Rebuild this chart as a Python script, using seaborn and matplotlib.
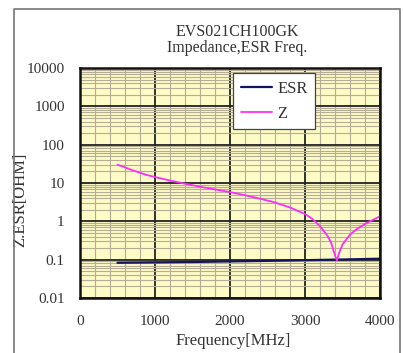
import numpy as np
import pandas as pd
import matplotlib
matplotlib.use("Agg")
import matplotlib.pyplot as plt
import seaborn as sns
from matplotlib.ticker import MultipleLocator, LogLocator, FixedLocator, NullFormatter
from matplotlib.lines import Line2D

# data
freq_z = [500, 600, 700, 800, 900, 1000, 1200, 1400, 1600, 1800, 2000, 2200, 2400,
          2600, 2800, 3000, 3100, 3200, 3300, 3350, 3400, 3425, 3450, 3500, 3600,
          3700, 3800, 3900, 4000]
z_ohm = [30, 25.5, 21.5, 18.5, 16, 14.3, 11.6, 9.6, 8.0, 6.8, 5.8, 4.8, 3.9,
         3.1, 2.3, 1.55, 1.15, 0.75, 0.42, 0.27, 0.13, 0.095, 0.14, 0.25, 0.45,
         0.65, 0.85, 1.08, 1.35]
freq_esr = [500, 1000, 1500, 2000, 2500, 3000, 3500, 4000]
esr_ohm = [0.083, 0.085, 0.087, 0.090, 0.093, 0.097, 0.101, 0.106]
x_ticks = [0, 1000, 2000, 3000, 4000]
y_ticks = [0.01, 0.1, 1, 10, 100, 1000, 10000]
y_labels = ['0.01', '0.1', '1', '10', '100', '1000', '10000']

sns.set_style("white")
plt.rcParams['font.family'] = ['Liberation Serif', 'DejaVu Serif']

df_z = pd.DataFrame({'f': freq_z, 'v': z_ohm})
df_esr = pd.DataFrame({'f': freq_esr, 'v': esr_ohm})

fig = plt.figure(figsize=(4.03, 3.53), dpi=100)
ax = fig.add_axes([80/403, 1-298/353, 300/403, 230/353])
ax.set_facecolor('#fdfbc6')

sns.lineplot(data=df_esr, x='f', y='v', ax=ax, color='#14145e', lw=1.6)
sns.lineplot(data=df_z, x='f', y='v', ax=ax, color='#ff2cff', lw=1.3)

ax.set_yscale('log')
ax.set_xlim(0, 4000)
ax.set_ylim(0.01, 10000)
ax.xaxis.set_major_locator(FixedLocator(x_ticks))
ax.xaxis.set_minor_locator(MultipleLocator(200))
ax.yaxis.set_major_locator(FixedLocator(y_ticks))
ax.yaxis.set_minor_locator(LogLocator(base=10, subs=np.arange(2, 10)))
ax.yaxis.set_minor_formatter(NullFormatter())
ax.set_yticklabels(y_labels)
ax.grid(which='minor', color='#b5ae94', lw=0.8)
ax.grid(which='major', color='#222222', lw=1.3)
ax.set_axisbelow(True)
for s in ax.spines.values():
    s.set_color('#111111')
    s.set_linewidth(1.8)
ax.tick_params(which='both', length=0, labelsize=11, colors='#333333')
ax.tick_params(axis='y', pad=11)
ax.tick_params(axis='x', pad=12)

ax.set_xlabel('Frequency[MHz]', fontsize=12, color='#333333')
ax.set_ylabel('Z.ESR[OHM]', fontsize=12, color='#333333')
ax.xaxis.set_label_coords(0.512, -0.152)
ax.yaxis.set_label_coords(-0.173, 0.426)

handles = [Line2D([], [], color='#14145e', lw=1.6), Line2D([], [], color='#ff2cff', lw=1.3)]
leg = ax.legend(handles, ['ESR', 'Z'], loc='upper left', bbox_to_anchor=(0.51, 0.978),
                fontsize=12, frameon=True, fancybox=False, framealpha=1,
                handlelength=1.9, handletextpad=0.3, borderpad=0.45, labelspacing=0.55,
                borderaxespad=0)
leg.get_frame().set_edgecolor('#444444')
leg.get_frame().set_linewidth(0.9)
for t in leg.get_texts():
    t.set_color('#333333')

fig.text(0.588, 0.908, 'EVS021CH100GK', ha='center', va='center', fontsize=11.5, color='#333333')
fig.text(0.588, 0.863, 'Impedance,ESR Freq.', ha='center', va='center', fontsize=11.5, color='#333333')

# outer frame
fig.add_artist(Line2D([14/403, 14/403, 400/403, 400/403], [0, 1-9/353, 1-9/353, 0],
                      transform=fig.transFigure, color='#777777', lw=1.2))

fig.savefig('out.png', dpi=100)
